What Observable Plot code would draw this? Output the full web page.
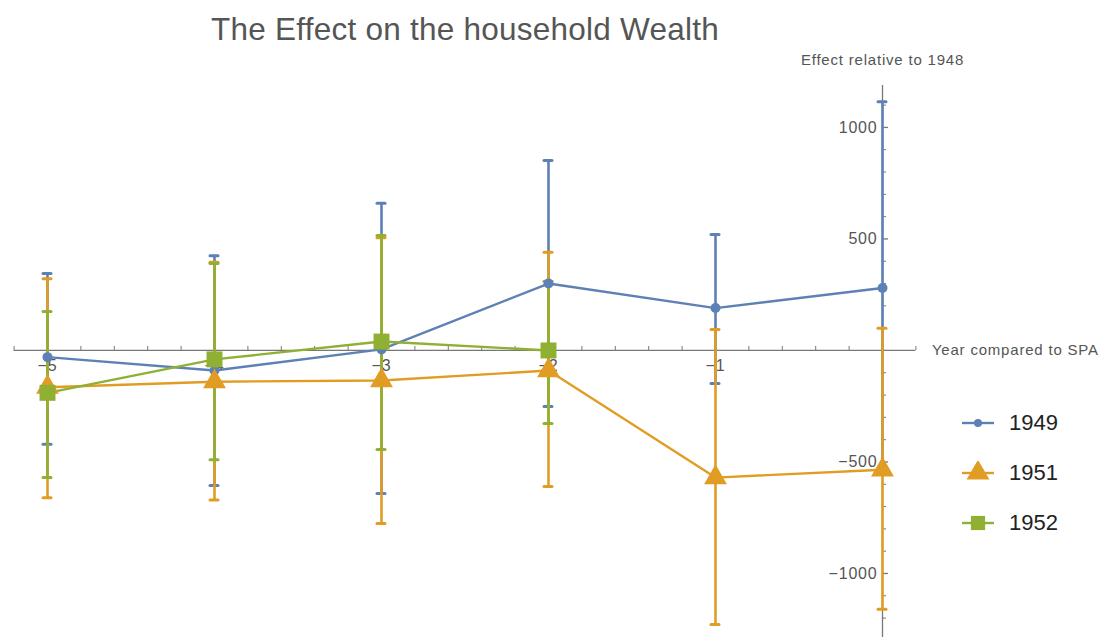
<!DOCTYPE html>
<html>
<head>
<meta charset="utf-8">
<script src="https://cdn.jsdelivr.net/npm/d3@7"></script>
<script src="https://cdn.jsdelivr.net/npm/@observablehq/plot@0.6"></script>
<style>
  html, body { margin: 0; padding: 0; background: #fff; }
  #wrap { position: relative; width: 1110px; height: 637px; overflow: hidden; font-family: "Liberation Sans", Arial, sans-serif; }
  #title { position: absolute; left: 0; width: 930px; top: 11px; text-align: center; font-size: 31.5px; letter-spacing: 0.25px; color: #555; white-space: nowrap; }
  #legend { position: absolute; left: 958px; top: 398px; }
  .li { display: flex; align-items: center; height: 50px; font-size: 22px; color: #222; }
  .li svg { margin-right: 11px; }
  #chart svg text { letter-spacing: 0.8px; }
</style>
</head>
<body>
<div id="wrap">
  <div id="chart"></div>
  <div id="title">The Effect on the household Wealth</div>
  <div id="legend"></div>
</div>
<script>
// ---- data ----
const years = [-5, -4, -3, -2, -1, 0];
const est1949 = [-30, -90, 5, 300, 190, 280];
const lo1949  = [-420, -605, -641, -251, -148, -555];
const hi1949  = [345, 425, 660, 852, 520, 1115];
const est1951 = [-165, -140, -135, -90, -570, -535];
const lo1951  = [-660, -670, -776, -610, -1229, -1160];
const hi1951  = [322, 395, 505, 440, 94, 100];
const years1952 = [-5, -4, -3, -2];
const est1952 = [-190, -40, 40, 0];
const lo1952  = [-570, -490, -444, -327];
const hi1952  = [175, 390, 515, 310];
const seriesNames = ["1949", "1951", "1952"];
const colors = ["#5E81B5", "#E19C24", "#8FB032"];
const symbols = ["circle", "triangle", "square"];
const xTicks = [-5, -4, -3, -2, -1];
const xTickLabels = ["−5", "−4", "−3", "−2", "−1"];
const yTicks = [-1000, -500, 500, 1000];
const yTickLabels = ["−1000", "−500", "500", "1000"];
const xTitle = "Year compared to SPA";
const yTitle = "Effect relative to 1948";

// ---- build rows ----
function rows(name, xs, est, lo, hi) {
  return xs.map((x, i) => ({series: name, x, y: est[i], lo: lo[i], hi: hi[i]}));
}
const data = [
  ...rows("1949", years, est1949, lo1949, hi1949),
  ...rows("1951", years, est1951, lo1951, hi1951),
  ...rows("1952", years1952, est1952, lo1952, hi1952)
];

const xDomain = [-5.2, 0.2];
const yDomain = [-1287, 1188];
const xMinor = d3.range(-26, 2).map(k => k / 5).filter(v => !xTicks.includes(Math.round(v * 1000) / 1000) && Math.abs(v) > 1e-9);
const yMinor = d3.range(-12, 12).map(k => k * 100).filter(v => v % 500 !== 0);
const axisColor = "#777";
const labelColor = "#555";

const marks = [
  // axes through origin
  Plot.ruleY([0], {x1: xDomain[0], x2: xDomain[1], stroke: axisColor, strokeWidth: 1.3}),
  Plot.ruleX([0], {y1: yDomain[0], y2: yDomain[1], stroke: axisColor, strokeWidth: 1.3}),
  Plot.ruleX(xTicks, {x: d => d, y1: 0, y2: 0, insetTop: -6, stroke: axisColor, strokeWidth: 1.3}),
  Plot.ruleX(xMinor, {x: d => d, y1: 0, y2: 0, insetTop: -4, stroke: axisColor, strokeWidth: 1}),
  Plot.ruleY(yTicks, {y: d => d, x1: 0, x2: 0, insetRight: -6, stroke: axisColor, strokeWidth: 1.3}),
  Plot.ruleY(yMinor, {y: d => d, x1: 0, x2: 0, insetRight: -4, stroke: axisColor, strokeWidth: 1}),
  Plot.text(xTicks, {x: d => d, y: 0, text: (d, i) => xTickLabels[i], dy: 15, fill: labelColor, fontSize: 16}),
  Plot.text(yTicks, {x: 0, y: d => d, text: (d, i) => yTickLabels[i], dx: -5, textAnchor: "end", fill: labelColor, fontSize: 16}),
  Plot.text([xTitle], {x: xDomain[1], y: 0, text: d => d, dx: 16, textAnchor: "start", fill: labelColor, fontSize: 15}),
  Plot.text([yTitle], {x: 0, y: yDomain[1], text: d => d, dy: -25, textAnchor: "middle", fill: labelColor, fontSize: 15})
];

seriesNames.forEach((name, si) => {
  const d = data.filter(r => r.series === name);
  const c = colors[si];
  marks.push(
    Plot.ruleX(d, {x: "x", y1: "lo", y2: "hi", stroke: c, strokeWidth: 2.6}),
    Plot.ruleY(d, {y: "hi", x1: "x", x2: "x", insetLeft: -4, insetRight: -4, stroke: c, strokeWidth: 3, strokeLinecap: "round"}),
    Plot.ruleY(d, {y: "lo", x1: "x", x2: "x", insetLeft: -4, insetRight: -4, stroke: c, strokeWidth: 3, strokeLinecap: "round"}),
    Plot.line(d, {x: "x", y: "y", stroke: c, strokeWidth: 2.4})
  );
});
seriesNames.forEach((name, si) => {
  const d = data.filter(r => r.series === name);
  const r = [5, 8.5, 9][si];
  marks.push(Plot.dot(d, {x: "x", y: "y", symbol: () => symbols[si], r, fill: colors[si], stroke: "none"}));
});

const chart = Plot.plot({
  width: 1110,
  height: 637,
  marginLeft: 13.6,
  marginRight: 194.6,
  marginTop: 85,
  marginBottom: 0,
  x: {domain: xDomain, axis: null},
  y: {domain: yDomain, axis: null},
  symbol: {type: "identity"},
  style: {fontFamily: "'Liberation Sans', Arial, sans-serif", background: "white", overflow: "visible"},
  marks
});
document.getElementById("chart").appendChild(chart);

// legend
const legend = document.getElementById("legend");
seriesNames.forEach((name, si) => {
  const item = document.createElement("div");
  item.className = "li";
  const s = d3.create("svg").attr("width", 40).attr("height", 24);
  s.append("line").attr("x1", 4).attr("x2", 36).attr("y1", 12).attr("y2", 12).attr("stroke", colors[si]).attr("stroke-width", 2.4);
  const sym = [d3.symbolCircle, d3.symbolTriangle, d3.symbolSquare][si];
  const size = Math.PI * [4, 8.5, 8][si] ** 2;
  s.append("path").attr("d", d3.symbol(sym, size)()).attr("transform", "translate(20,12)").attr("fill", colors[si]);
  item.appendChild(s.node());
  const t = document.createElement("span");
  t.textContent = name;
  item.appendChild(t);
  legend.appendChild(item);
});
</script>
</body>
</html>
